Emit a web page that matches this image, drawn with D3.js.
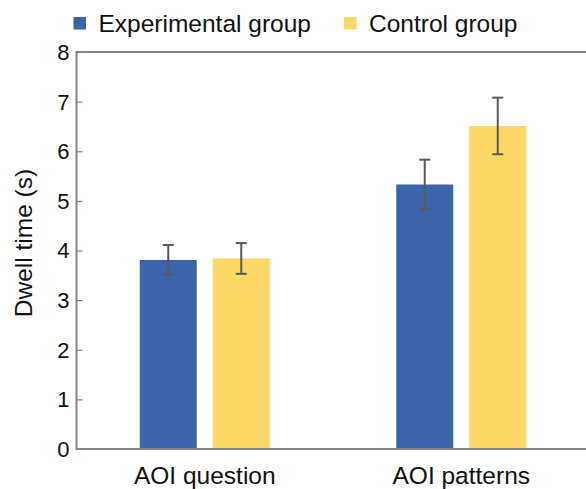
<!DOCTYPE html>
<html>
<head>
<meta charset="utf-8">
<script src="https://cdn.jsdelivr.net/npm/d3@7"></script>
<style>
  html, body { margin: 0; padding: 0; background: #fff; }
  svg { display: block; font-family: "Liberation Sans", Arial, Helvetica, sans-serif; }
</style>
</head>
<body>
<svg id="chart" width="586" height="489"></svg>
<script>
// ---- data ----
const categories = ["AOI question", "AOI patterns"];
const seriesNames = ["Experimental group", "Control group"];
const experimental = [3.81, 5.33];
const control = [3.84, 6.51];
const experimentalErr = [0.30, 0.50];
const controlErr = [0.31, 0.57];
const yTicks = [0, 1, 2, 3, 4, 5, 6, 7, 8];
const yLabel = "Dwell time (s)";

// ---- styles ----
const colors = ["#3c64ab", "#fdd865"];
const frameColor = "#858585";
const errColor = "#5a5a5a";

const svg = d3.select("#chart");
const mLeft = 76.5, mRight = 589.5, mTop = 52, mBottom = 449;

const x0 = d3.scaleBand().domain(categories).range([mLeft, mRight]).padding(0);
const bw = x0.bandwidth();
const x1 = d3.scaleBand().domain(seriesNames)
  .range([bw / 2 - 65, bw / 2 + 65]).paddingInner(16 / 73).paddingOuter(0);
const y = d3.scaleLinear().domain([0, 8]).range([mBottom, mTop]);

const rows = categories.map((c, i) => ({
  cat: c,
  vals: [
    { s: seriesNames[0], v: experimental[i], e: experimentalErr[i], c: colors[0] },
    { s: seriesNames[1], v: control[i], e: controlErr[i], c: colors[1] }
  ]
}));

// bars
const g = svg.append("g");
const grp = g.selectAll("g.grp").data(rows).join("g")
  .attr("class", "grp")
  .attr("transform", d => `translate(${x0(d.cat)},0)`);

grp.selectAll("rect").data(d => d.vals).join("rect")
  .attr("x", d => x1(d.s))
  .attr("width", x1.bandwidth())
  .attr("y", d => y(d.v))
  .attr("height", d => y(0) - y(d.v))
  .attr("fill", d => d.c);

// error bars
const eb = grp.selectAll("g.eb").data(d => d.vals).join("g").attr("class", "eb");
const capW = 11;
eb.append("line")
  .attr("x1", d => x1(d.s) + x1.bandwidth() / 2)
  .attr("x2", d => x1(d.s) + x1.bandwidth() / 2)
  .attr("y1", d => y(d.v + d.e))
  .attr("y2", d => y(d.v - d.e))
  .attr("stroke", errColor).attr("stroke-width", 2);
eb.append("line")
  .attr("x1", d => x1(d.s) + x1.bandwidth() / 2 - capW / 2)
  .attr("x2", d => x1(d.s) + x1.bandwidth() / 2 + capW / 2)
  .attr("y1", d => y(d.v + d.e)).attr("y2", d => y(d.v + d.e))
  .attr("stroke", errColor).attr("stroke-width", 2);
eb.append("line")
  .attr("x1", d => x1(d.s) + x1.bandwidth() / 2 - capW / 2)
  .attr("x2", d => x1(d.s) + x1.bandwidth() / 2 + capW / 2)
  .attr("y1", d => y(d.v - d.e)).attr("y2", d => y(d.v - d.e))
  .attr("stroke", errColor).attr("stroke-width", 2);

// frame
svg.append("rect")
  .attr("x", mLeft).attr("y", mTop)
  .attr("width", mRight - mLeft).attr("height", mBottom - mTop)
  .attr("fill", "none").attr("stroke", frameColor).attr("stroke-width", 2);

// y axis (inward ticks)
const yAxis = d3.axisRight(y).tickValues(yTicks).tickSize(6).tickFormat("");
const ya = svg.append("g").attr("transform", `translate(${mLeft},0)`).call(yAxis);
ya.select(".domain").remove();
ya.selectAll(".tick line").attr("stroke", frameColor).attr("stroke-width", 1.2);

svg.append("g").selectAll("text").data(yTicks).join("text")
  .attr("x", 69.5).attr("y", d => y(d)).attr("dy", "0.36em")
  .attr("text-anchor", "end").attr("font-size", 22).attr("fill", "#111")
  .text(d => d);

// x category labels
const xAxis = d3.axisBottom(x0).tickSize(0).tickPadding(0);
const xa = svg.append("g").attr("transform", `translate(0,${mBottom})`).call(xAxis);
xa.select(".domain").remove();
xa.selectAll(".tick text")
  .attr("y", 34.5).attr("dy", 0)
  .attr("font-size", 24.5).attr("fill", "#111")
  .attr("font-family", "Liberation Sans, Arial, Helvetica, sans-serif");

// y label
svg.append("text")
  .attr("transform", `translate(32,243) rotate(-90)`)
  .attr("text-anchor", "middle").attr("font-size", 24.5).attr("fill", "#111")
  .text(yLabel);

// legend
const legX = [73.5, 344];
const leg = svg.append("g").selectAll("g").data(seriesNames).join("g")
  .attr("transform", (d, i) => `translate(${legX[i]},0)`);
leg.append("rect").attr("x", 0).attr("y", 17).attr("width", 12.5).attr("height", 12.5)
  .attr("fill", (d, i) => colors[i]);
leg.append("text").attr("x", 25).attr("y", 31.5)
  .attr("font-size", 24.5).attr("fill", "#111").text(d => d);
</script>
</body>
</html>
